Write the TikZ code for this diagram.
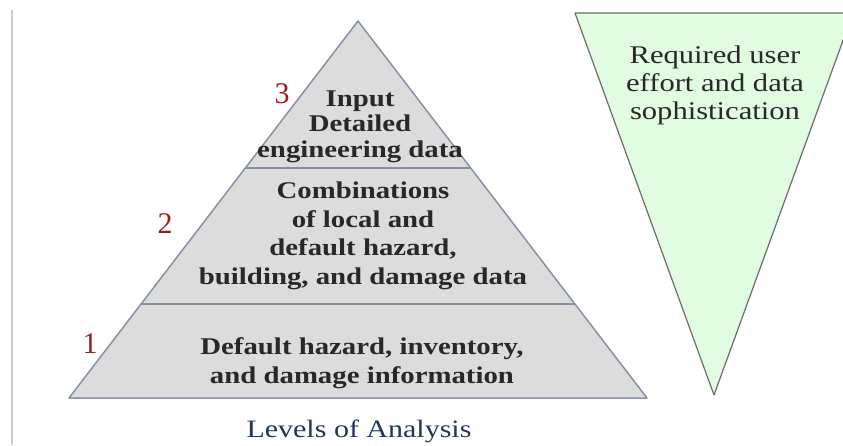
\documentclass[tikz,border=0pt]{standalone}
\usepackage{fontspec}
\setmainfont{Liberation Serif}
\newfontfamily\widefont[FakeStretch=1.2]{Liberation Serif}
\usetikzlibrary{calc, positioning}
\definecolor{pyrfill}{RGB}{220, 220, 220}
\definecolor{pyrline}{RGB}{135, 145, 165}
\definecolor{effortfill}{RGB}{226, 252, 226}
\definecolor{effortline}{RGB}{105, 110, 105}
\definecolor{levelred}{RGB}{155, 30, 30}
\definecolor{captionblue}{RGB}{30, 55, 90}
\definecolor{textgray}{RGB}{40, 40, 40}

\begin{document}
\begin{tikzpicture}[x=1pt, y=-1pt,
        leveltext/.style={align=center, anchor=base, inner sep=0pt, text=textgray,
            font=\widefont\bfseries\fontsize{24}{28.5}\selectfont},
        levelnum/.style={anchor=base, inner sep=0pt, text=levelred,
            font=\fontsize{30}{30}\selectfont}]

        \useasboundingbox (0, 0) rectangle (843, 445);
        \clip (0, 0) rectangle (843, 445);

        % Margin
        \draw[color=black!20, line width=2] (12, 10) -- (12, 445);

        % Pyramid
        \coordinate (apex) at (358, 21);
        \coordinate (bl) at (69, 398);
        \coordinate (br) at (647, 398);

        \filldraw[fill=pyrfill, draw=pyrline, line width=1.5, line join=round] (apex) -- (bl) -- (br) -- cycle;

        \draw[color=pyrline, line width=2] ($(bl)!0.249!(apex)$) -- ($(br)!0.249!(apex)$);
        \draw[color=pyrline, line width=2] ($(bl)!0.61!(apex)$) -- ($(br)!0.61!(apex)$);

        % base anchor sits on the last line
        \node[leveltext, font=\widefont\bfseries\fontsize{24}{25.5}\selectfont] (top) at (360, 157)
        { Input\\Detailed\\engineering data };

        \node[leveltext] (middle) at (363, 284)
        { Combinations\\of local and\\default hazard,\\building, and damage data };

        \node[leveltext] (bottom) at (362, 383)
        { Default hazard, inventory,\\and damage information };

        \node[levelnum] (three) at (282, 103) { 3 };
        \node[levelnum] (two) at (165, 233) { 2 };
        \node[levelnum] (one) at (90, 353) { 1 };

        \node[anchor=base, inner sep=0pt, text=captionblue, font=\widefont\fontsize{25}{28}\selectfont] (caption) at (359, 437)
        { Levels of Analysis };

        % Effort
        \coordinate (etl) at (575, 13);
        \coordinate (etr) at (853, 13);
        \coordinate (etip) at (714, 395);

        \filldraw[fill=effortfill, draw=effortline, line width=1.2, line join=round] (etl) -- (etr) -- (etip) -- cycle;

        \node[align=center, anchor=base, inner sep=0pt, text=textgray, font=\widefont\fontsize{25.5}{28}\selectfont] (effort) at (715, 119)
        { Required user\\effort and data\\sophistication };
\end{tikzpicture}
\end{document}
